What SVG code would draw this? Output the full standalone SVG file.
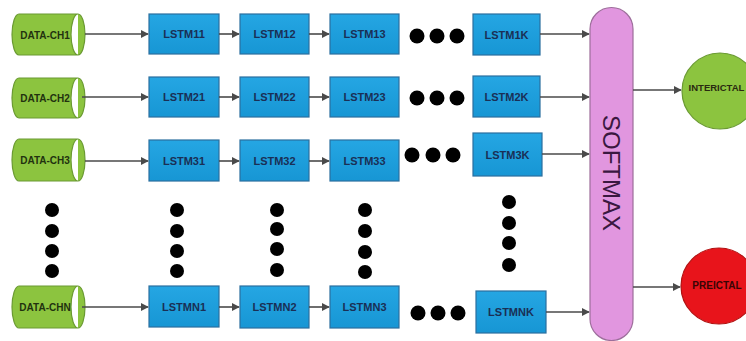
<svg xmlns="http://www.w3.org/2000/svg" width="746" height="341" viewBox="0 0 746 341">
<defs>
<linearGradient id="bg" x1="0" y1="0" x2="0" y2="1"><stop offset="0" stop-color="#25a6e3"/><stop offset="1" stop-color="#1796d4"/></linearGradient>
<marker id="ah" viewBox="0 0 10 10" refX="9" refY="5" markerWidth="8" markerHeight="8" markerUnits="userSpaceOnUse" orient="auto"><path d="M0,0 L10,5 L0,10 Z" fill="#4a4a4a"/></marker>
</defs>
<style>
.box{fill:url(#bg);stroke:#2b6f9f;stroke-width:1.2}
.bt{font-family:"Liberation Sans",Arial,sans-serif;font-weight:bold;font-size:11px;fill:#1a2f55;text-anchor:middle;dominant-baseline:central}
.cyl{fill:#8cc43f;stroke:#6a9a32;stroke-width:1.2}
.ct{font-family:"Liberation Sans",Arial,sans-serif;font-weight:bold;font-size:10px;fill:#22320f;text-anchor:middle;dominant-baseline:central}
.dot{fill:#000}
.ar{stroke:#4a4a4a;stroke-width:1.6;fill:none;marker-end:url(#ah)}
</style>
<rect width="746" height="341" fill="#fff"/>

<g id="data-ch1"><path class="cyl" d="M19,14 H78 A7,20.5 0 0 1 78,55 H19 A7,20.5 0 0 1 19,14 Z M78,14 A7,20.5 0 0 0 78,55"/><text class="ct" x="45" y="35">DATA-CH1</text></g>
<g id="data-ch2"><path class="cyl" d="M19,78 H78 A7,20 0 0 1 78,118 H19 A7,20 0 0 1 19,78 Z M78,78 A7,20 0 0 0 78,118"/><text class="ct" x="45" y="98">DATA-CH2</text></g>
<g id="data-ch3"><path class="cyl" d="M19,139 H78 A7,21 0 0 1 78,181 H19 A7,21 0 0 1 19,139 Z M78,139 A7,21 0 0 0 78,181"/><text class="ct" x="45" y="160">DATA-CH3</text></g>
<g id="data-chn"><path class="cyl" d="M19,286 H78 A7,21 0 0 1 78,328 H19 A7,21 0 0 1 19,286 Z M78,286 A7,21 0 0 0 78,328"/><text class="ct" x="45" y="307">DATA-CHN</text></g>

<g id="lstm11"><rect class="box" x="149" y="14" width="70" height="40"/><text class="bt" x="184" y="34">LSTM11</text></g>
<g id="lstm12"><rect class="box" x="240" y="14" width="69" height="40"/><text class="bt" x="274.5" y="34">LSTM12</text></g>
<g id="lstm13"><rect class="box" x="330" y="14" width="69" height="40"/><text class="bt" x="364.5" y="34">LSTM13</text></g>
<g id="lstm1k"><rect class="box" x="473" y="14" width="67" height="41"/><text class="bt" x="506.5" y="34.5">LSTM1K</text></g>

<g id="lstm21"><rect class="box" x="149" y="77" width="70" height="40"/><text class="bt" x="184" y="97">LSTM21</text></g>
<g id="lstm22"><rect class="box" x="240" y="77" width="69" height="40"/><text class="bt" x="274.5" y="97">LSTM22</text></g>
<g id="lstm23"><rect class="box" x="330" y="77" width="69" height="40"/><text class="bt" x="364.5" y="97">LSTM23</text></g>
<g id="lstm2k"><rect class="box" x="473" y="76" width="67" height="41"/><text class="bt" x="506.5" y="96.5">LSTM2K</text></g>

<g id="lstm31"><rect class="box" x="149" y="140" width="70" height="41"/><text class="bt" x="184" y="160.5">LSTM31</text></g>
<g id="lstm32"><rect class="box" x="240" y="140" width="69" height="41"/><text class="bt" x="274.5" y="160.5">LSTM32</text></g>
<g id="lstm33"><rect class="box" x="330" y="140" width="69" height="41"/><text class="bt" x="364.5" y="160.5">LSTM33</text></g>
<g id="lstm3k"><rect class="box" x="473" y="133" width="69" height="43"/><text class="bt" x="507.5" y="154.5">LSTM3K</text></g>

<g id="lstmn1"><rect class="box" x="149" y="286" width="70" height="41"/><text class="bt" x="184" y="306.5">LSTMN1</text></g>
<g id="lstmn2"><rect class="box" x="240" y="286" width="69" height="42"/><text class="bt" x="274.5" y="307">LSTMN2</text></g>
<g id="lstmn3"><rect class="box" x="330" y="286" width="69" height="42"/><text class="bt" x="364.5" y="307">LSTMN3</text></g>
<g id="lstmnk"><rect class="box" x="476" y="291" width="70" height="42"/><text class="bt" x="511" y="312">LSTMNK</text></g>

<g id="softmax"><path d="M590,29 A21.5,21.5 0 0 1 633,29 V319 A21.5,21.5 0 0 1 590,319 Z" fill="#e196df" stroke="#9d6e9b" stroke-width="1.2"/><text x="611" y="173" transform="rotate(90 611 173)" font-family="'Liberation Sans',Arial,sans-serif" font-size="24" fill="#3a1840" text-anchor="middle" dominant-baseline="central">SOFTMAX</text></g>

<g id="interictal"><circle cx="720" cy="91" r="38" fill="#8cc43f" stroke="#6a9a32" stroke-width="1.2"/><text x="716.5" y="87" font-family="'Liberation Sans',Arial,sans-serif" font-weight="bold" font-size="9.5" fill="#2a2a10" text-anchor="middle" dominant-baseline="central">INTERICTAL</text></g>
<g id="preictal"><circle cx="719" cy="286" r="38" fill="#e8141b" stroke="#b21010" stroke-width="1.2"/><text x="717" y="285" font-family="'Liberation Sans',Arial,sans-serif" font-weight="bold" font-size="10" fill="#3a0505" text-anchor="middle" dominant-baseline="central">PREICTAL</text></g>

<g id="ellipsis" class="dot">
<circle cx="417" cy="36" r="7.5"/><circle cx="437" cy="36" r="7.5"/><circle cx="457" cy="36" r="7.5"/>
<circle cx="417" cy="98" r="7.5"/><circle cx="437" cy="98" r="7.5"/><circle cx="457" cy="98" r="7.5"/>
<circle cx="412" cy="155" r="7.5"/><circle cx="433" cy="155" r="7.5"/><circle cx="453" cy="155" r="7.5"/>
<circle cx="418" cy="313" r="7.5"/><circle cx="438" cy="313" r="7.5"/><circle cx="458" cy="313" r="7.5"/>
<circle cx="52" cy="210" r="7"/><circle cx="52" cy="231" r="7"/><circle cx="52" cy="251" r="7"/><circle cx="52" cy="271" r="7"/>
<circle cx="177" cy="210" r="7"/><circle cx="177" cy="231" r="7"/><circle cx="177" cy="251" r="7"/><circle cx="177" cy="271" r="7"/>
<circle cx="277" cy="210" r="7"/><circle cx="277" cy="229" r="7"/><circle cx="277" cy="249" r="7"/><circle cx="277" cy="270" r="7"/>
<circle cx="365" cy="210" r="7"/><circle cx="365" cy="231" r="7"/><circle cx="365" cy="252" r="7"/><circle cx="365" cy="272" r="7"/>
<circle cx="509" cy="202" r="7"/><circle cx="509" cy="223" r="7"/><circle cx="509" cy="243" r="7"/><circle cx="509" cy="265" r="7"/>
</g>

<g id="connectors">
<path class="ar" d="M85,34 H148"/>
<path class="ar" d="M219,34 H239"/>
<path class="ar" d="M309,34 H329"/>
<path class="ar" d="M540,34 H589"/>
<path class="ar" d="M82,97 H148"/>
<path class="ar" d="M219,97 H239"/>
<path class="ar" d="M309,97 H329"/>
<path class="ar" d="M540,97 H589"/>
<path class="ar" d="M85,161 H148"/>
<path class="ar" d="M219,161 H239"/>
<path class="ar" d="M309,161 H329"/>
<path class="ar" d="M542,154 H589"/>
<path class="ar" d="M82,307 H148"/>
<path class="ar" d="M219,307 H239"/>
<path class="ar" d="M309,307 H329"/>
<path class="ar" d="M546,312 H589"/>
<path class="ar" d="M633,90 H681"/>
<path class="ar" d="M633,287 H680"/>
</g>
</svg>
